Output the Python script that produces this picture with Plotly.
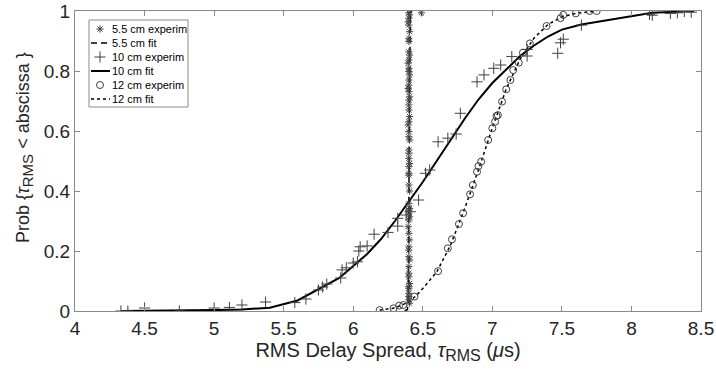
import plotly.graph_objects as go

# ---------------- data ----------------
# 5.5 cm experimental (stars)
x55 = [6.400, 6.405, 6.400, 6.395, 6.400, 6.405, 6.400, 6.400, 6.400, 6.405,
       6.400, 6.395, 6.400, 6.400, 6.405, 6.400, 6.400, 6.395, 6.400, 6.405,
       6.400, 6.400, 6.400, 6.405, 6.400, 6.395, 6.400, 6.400, 6.405, 6.400,
       6.400, 6.400, 6.405, 6.400, 6.400, 6.400, 6.400, 6.405, 6.400, 6.400,
       6.405, 6.400, 6.395, 6.400, 6.405, 6.400, 6.400, 6.400, 6.405, 6.400,
       6.400, 6.400, 6.405, 6.400, 6.400, 6.400, 6.400, 6.400, 6.405, 6.490,
       6.400, 6.405]
y55 = [0.994, 0.987, 0.976, 0.964, 0.953, 0.931, 0.909, 0.898, 0.864, 0.853,
       0.837, 0.826, 0.809, 0.798, 0.787, 0.770, 0.753, 0.742, 0.731, 0.714,
       0.703, 0.687, 0.670, 0.648, 0.631, 0.620, 0.598, 0.581, 0.570, 0.537,
       0.526, 0.509, 0.492, 0.481, 0.459, 0.453, 0.359, 0.342, 0.337, 0.326,
       0.314, 0.303, 0.281, 0.259, 0.237, 0.214, 0.203, 0.181, 0.170, 0.148,
       0.126, 0.114, 0.092, 0.081, 0.076, 0.059, 0.048, 0.037, 0.026, 0.994,
       0.420, 0.400]
# 5.5 cm fit
x55fit = [6.370, 6.390, 6.395, 6.400, 6.405, 6.410, 6.420]
y55fit = [0.000, 0.005, 0.050, 0.500, 0.950, 0.995, 1.000]

# 10 cm experimental (plus)
x10 = [4.33, 4.38, 4.50, 4.75, 5.00, 5.11, 5.20, 5.37, 5.58, 5.66,
       5.75, 5.78, 5.81, 5.91, 5.92, 5.95, 6.00, 6.03, 6.04, 6.05,
       6.10, 6.15, 6.25, 6.32, 6.32, 6.38, 6.41, 6.47, 6.52, 6.55,
       6.61, 6.68, 6.74, 6.77, 6.89, 6.94, 7.01, 7.06, 7.14, 7.25,
       7.25, 7.47, 7.49, 7.51, 7.64, 8.13, 8.15, 8.28, 8.33, 8.38, 8.43]
y10 = [0.000, 0.000, 0.010, 0.000, 0.010, 0.012, 0.020, 0.030, 0.028, 0.040,
       0.070, 0.080, 0.090, 0.110, 0.137, 0.144, 0.160, 0.164, 0.200, 0.214,
       0.217, 0.256, 0.262, 0.283, 0.309, 0.320, 0.331, 0.370, 0.459, 0.470,
       0.564, 0.576, 0.590, 0.659, 0.764, 0.787, 0.809, 0.820, 0.848, 0.850,
       0.872, 0.859, 0.894, 0.906, 0.953, 0.989, 0.986, 0.992, 0.994, 0.998, 0.996]
# 10 cm fit
x10fit = [4.33, 4.75, 5.00, 5.20, 5.40, 5.60, 5.75, 5.90, 6.00, 6.10,
          6.20, 6.30, 6.40, 6.50, 6.60, 6.70, 6.80, 6.90, 7.00, 7.10,
          7.20, 7.30, 7.40, 7.50, 7.64, 7.90, 8.15, 8.45]
y10fit = [0.000, 0.001, 0.003, 0.005, 0.011, 0.035, 0.073, 0.110, 0.150, 0.190,
          0.240, 0.300, 0.365, 0.430, 0.500, 0.570, 0.640, 0.705, 0.760, 0.805,
          0.850, 0.885, 0.915, 0.938, 0.955, 0.975, 0.994, 1.000]

# 12 cm experimental (circles)
x12 = [6.19, 6.29, 6.33, 6.36, 6.44, 6.61, 6.68, 6.71, 6.76, 6.79,
       6.84, 6.86, 6.89, 6.90, 6.92, 6.97, 7.00, 7.02, 7.03, 7.04,
       7.07, 7.10, 7.13, 7.15, 7.19, 7.22, 7.27, 7.39, 7.49, 7.51,
       7.60, 7.70, 7.75]
y12 = [0.003, 0.009, 0.018, 0.020, 0.048, 0.133, 0.209, 0.239, 0.290, 0.326,
       0.389, 0.420, 0.464, 0.483, 0.498, 0.570, 0.609, 0.631, 0.650, 0.653,
       0.698, 0.739, 0.770, 0.803, 0.828, 0.861, 0.892, 0.950, 0.976, 0.987,
       0.992, 1.000, 1.000]
# 12 cm fit
x12fit = [6.19, 6.30, 6.40, 6.45, 6.50, 6.60, 6.70, 6.80, 6.90, 7.00,
          7.10, 7.20, 7.30, 7.40, 7.50, 7.60, 7.75]
y12fit = [0.003, 0.010, 0.030, 0.050, 0.075, 0.130, 0.220, 0.340, 0.470, 0.610,
          0.740, 0.840, 0.910, 0.955, 0.980, 0.992, 1.000]

xticks = [4, 4.5, 5, 5.5, 6, 6.5, 7, 7.5, 8, 8.5]
yticks = [0, 0.2, 0.4, 0.6, 0.8, 1]

names = ["5.5 cm experim", "5.5 cm fit", "10 cm experim", "10 cm fit",
         "12 cm experim", "12 cm fit"]

# ---------------- styles ----------------
MK = "#404040"
AX = "#8a8a8a"
TXT = "#262626"
FONT = "Liberation Sans, Arial, sans-serif"

star = dict(symbol="asterisk-open", size=6, color=MK, line=dict(color=MK, width=1))
plus = dict(symbol="cross-thin-open", size=8, color=MK, line=dict(color=MK, width=1))
circ = dict(symbol="circle-open", size=7, color=MK, line=dict(color=MK, width=1))
l55 = dict(color="black", width=1.5, dash="6px,4px")
l10 = dict(color="black", width=2)
l12 = dict(color="black", width=1.5, dash="dot")

fig = go.Figure()
fig.add_trace(go.Scatter(x=x55fit, y=y55fit, mode="lines", name=names[1], line=l55))
fig.add_trace(go.Scatter(x=x10fit, y=y10fit, mode="lines", name=names[3], line=l10))
fig.add_trace(go.Scatter(x=x12fit, y=y12fit, mode="lines", name=names[5], line=l12))
fig.add_trace(go.Scatter(x=x55, y=y55, mode="markers", name=names[0], marker=star))
fig.add_trace(go.Scatter(x=x10, y=y10, mode="markers", name=names[2], marker=plus))
fig.add_trace(go.Scatter(x=x12, y=y12, mode="markers", name=names[4], marker=circ))

# ---------------- custom legend (compact, MATLAB-like) ----------------
PL, PT, PW, PH = 75, 11, 626, 300          # plot area in pixels
def px(x):
    return (x - PL) / PW
def py(y):
    return (PT + PH - y) / PH

LX0, LX1, LY0, LY1 = 89, 188, 20, 107
ROW0, ROW = 29, 14
SYM_X0, SYM_X1, SYM_XC, TXT_X = 91, 110, 100, 111

fig.add_shape(type="rect", xref="paper", yref="paper",
              x0=px(LX0), x1=px(LX1), y0=py(LY1), y1=py(LY0),
              line=dict(color=AX, width=1), fillcolor="white", layer="below")
styles = [("m", star), ("l", l55), ("m", plus), ("l", l10), ("m", circ), ("l", l12)]
for k, (kind, st) in enumerate(styles):
    yc = ROW0 + ROW * k
    if kind == "l":
        fig.add_shape(type="line", xref="paper", yref="paper",
                      x0=px(SYM_X0), x1=px(SYM_X1), y0=py(yc), y1=py(yc),
                      line=st, layer="above")
    else:
        fig.add_trace(go.Scatter(x=[px(SYM_XC)], y=[py(yc)], mode="markers",
                                 marker=st, xaxis="x2", yaxis="y2",
                                 hoverinfo="skip", cliponaxis=False))
    fig.add_annotation(x=px(TXT_X), y=py(yc), xref="paper", yref="paper",
                       text=names[k], showarrow=False, xanchor="left",
                       yanchor="middle", xshift=-1,
                       font=dict(family=FONT, size=11, color="black"))

# y-axis title, placed like the reference
fig.add_annotation(x=px(24), y=py(148), xref="paper", yref="paper",
                   text="Prob {<i>τ</i><sub><span style='font-size:15px'>RMS</span></sub> &lt; abscissa }",
                   textangle=-90, showarrow=False, xanchor="center", yanchor="middle",
                   font=dict(family=FONT, size=18, color=TXT))

common = dict(showgrid=False, zeroline=False, showline=True, linecolor=AX,
              linewidth=1, mirror="ticks", ticks="inside", ticklen=5,
              tickcolor=AX, automargin=False,
              tickfont=dict(family=FONT, size=19, color=TXT))

fig.update_xaxes(range=[4, 8.5], tickvals=xticks,
                 ticktext=[f"{v:g}" for v in xticks],
                 title=dict(text="RMS Delay Spread, <i>τ</i><sub><span style='font-size:16px'>RMS</span></sub> (<i>μ</i>s)",
                            font=dict(family=FONT, size=20, color=TXT), standoff=2),
                 **common)
fig.update_yaxes(range=[0, 1], tickvals=yticks,
                 ticktext=[f"{v:g}" for v in yticks],
                 **common)

fig.update_layout(
    width=716, height=374,
    margin=dict(l=75, r=15, t=11, b=63, autoexpand=False),
    plot_bgcolor="white", paper_bgcolor="white",
    font=dict(family=FONT, color=TXT),
    showlegend=False,
    xaxis2=dict(range=[0, 1], overlaying="x", visible=False, fixedrange=True),
    yaxis2=dict(range=[0, 1], overlaying="y", visible=False, fixedrange=True),
)

fig.write_html("out.html")
